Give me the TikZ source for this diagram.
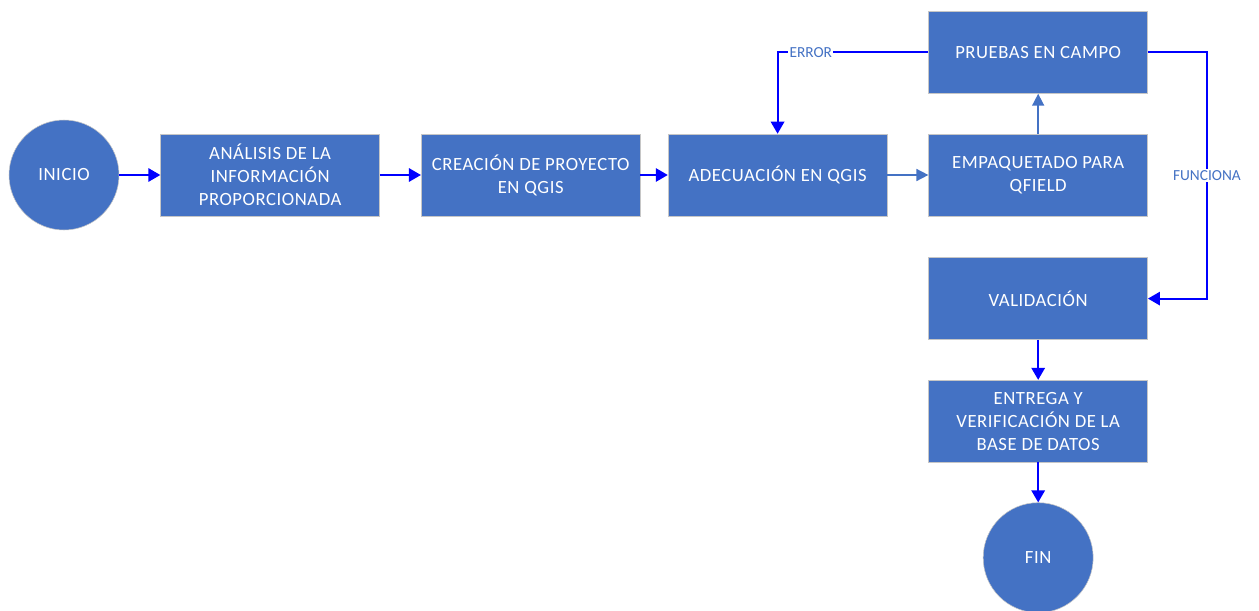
\documentclass[tikz,border=0pt]{standalone}
\usepackage{fontspec}
\setmainfont{Carlito}
\newfontfamily\boxfont[LetterSpace=3]{Carlito}
\usetikzlibrary{positioning,arrows.meta}
\definecolor{boxblue}{HTML}{4472C4}
\definecolor{linkblue}{HTML}{0000FF}

\begin{document}
\begin{tikzpicture}[x = 0.75pt, y = -0.75pt, node distance = 30.8pt,
	main/.style = {draw = gray!45, circle, fill = boxblue, text = white, minimum size = 82.5pt, inner sep = 0pt, font = \boxfont\fontsize{14}{17.3}\selectfont},
	box/.style = {draw = gray!45, rectangle, fill = boxblue, text = white, minimum width = 164.25pt, minimum height = 61.5pt, inner sep = 0pt, align = center, font = \boxfont\fontsize{14}{17.3}\selectfont},
	link/.style = {draw = linkblue, line width = 1.5pt, -{Triangle[width = 10pt, length = 9pt]}},
	soft/.style = {draw = boxblue, line width = 1.2pt, -{Triangle[width = 9pt, length = 9pt]}},
	tag/.style = {fill = white, text = boxblue, inner sep = 1pt, font = \fontsize{11.5}{13}\selectfont}]
	\useasboundingbox (0,0) rectangle (1259,610);
	\node[main] (1) at (64,175) {INICIO};
	\node[box] (2) [right = of 1] {ANÁLISIS DE LA\\INFORMACIÓN\\PROPORCIONADA};
	\node[box] (3) [right = of 2] {CREACIÓN DE PROYECTO\\EN QGIS};
	\node[box] (4) [right = 20.5pt of 3] {ADECUACIÓN EN QGIS};
	\node[box] (5) [right = of 4] {EMPAQUETADO PARA\\QFIELD};
	\node[box] (6) [above = 30pt of 5] {PRUEBAS EN CAMPO};
	\node[box] (7) [below = of 5] {VALIDACIÓN};
	\node[box] (8) [below = 30pt of 7] {ENTREGA Y\\VERIFICACIÓN DE LA\\BASE DE DATOS};
	\node[main] (9) [below = 30pt of 8] {FIN};
	\draw[link] (1) -- (2);
	\draw[link] (2) -- (3);
	\draw[link] (3) -- (4);
	\draw[soft] (4) -- (5);
	\draw[soft] (5) -- (6);
	\draw[link] (6.west) -| node[tag, pos = 0.39] {ERROR} (4.north);
	\draw[link] (6.east) -- ++(59,0) |- node[tag, pos = 0.25] {FUNCIONA} (7.east);
	\draw[link] (7) -- (8);
	\draw[link] (8) -- (9);
\end{tikzpicture}
\end{document}
